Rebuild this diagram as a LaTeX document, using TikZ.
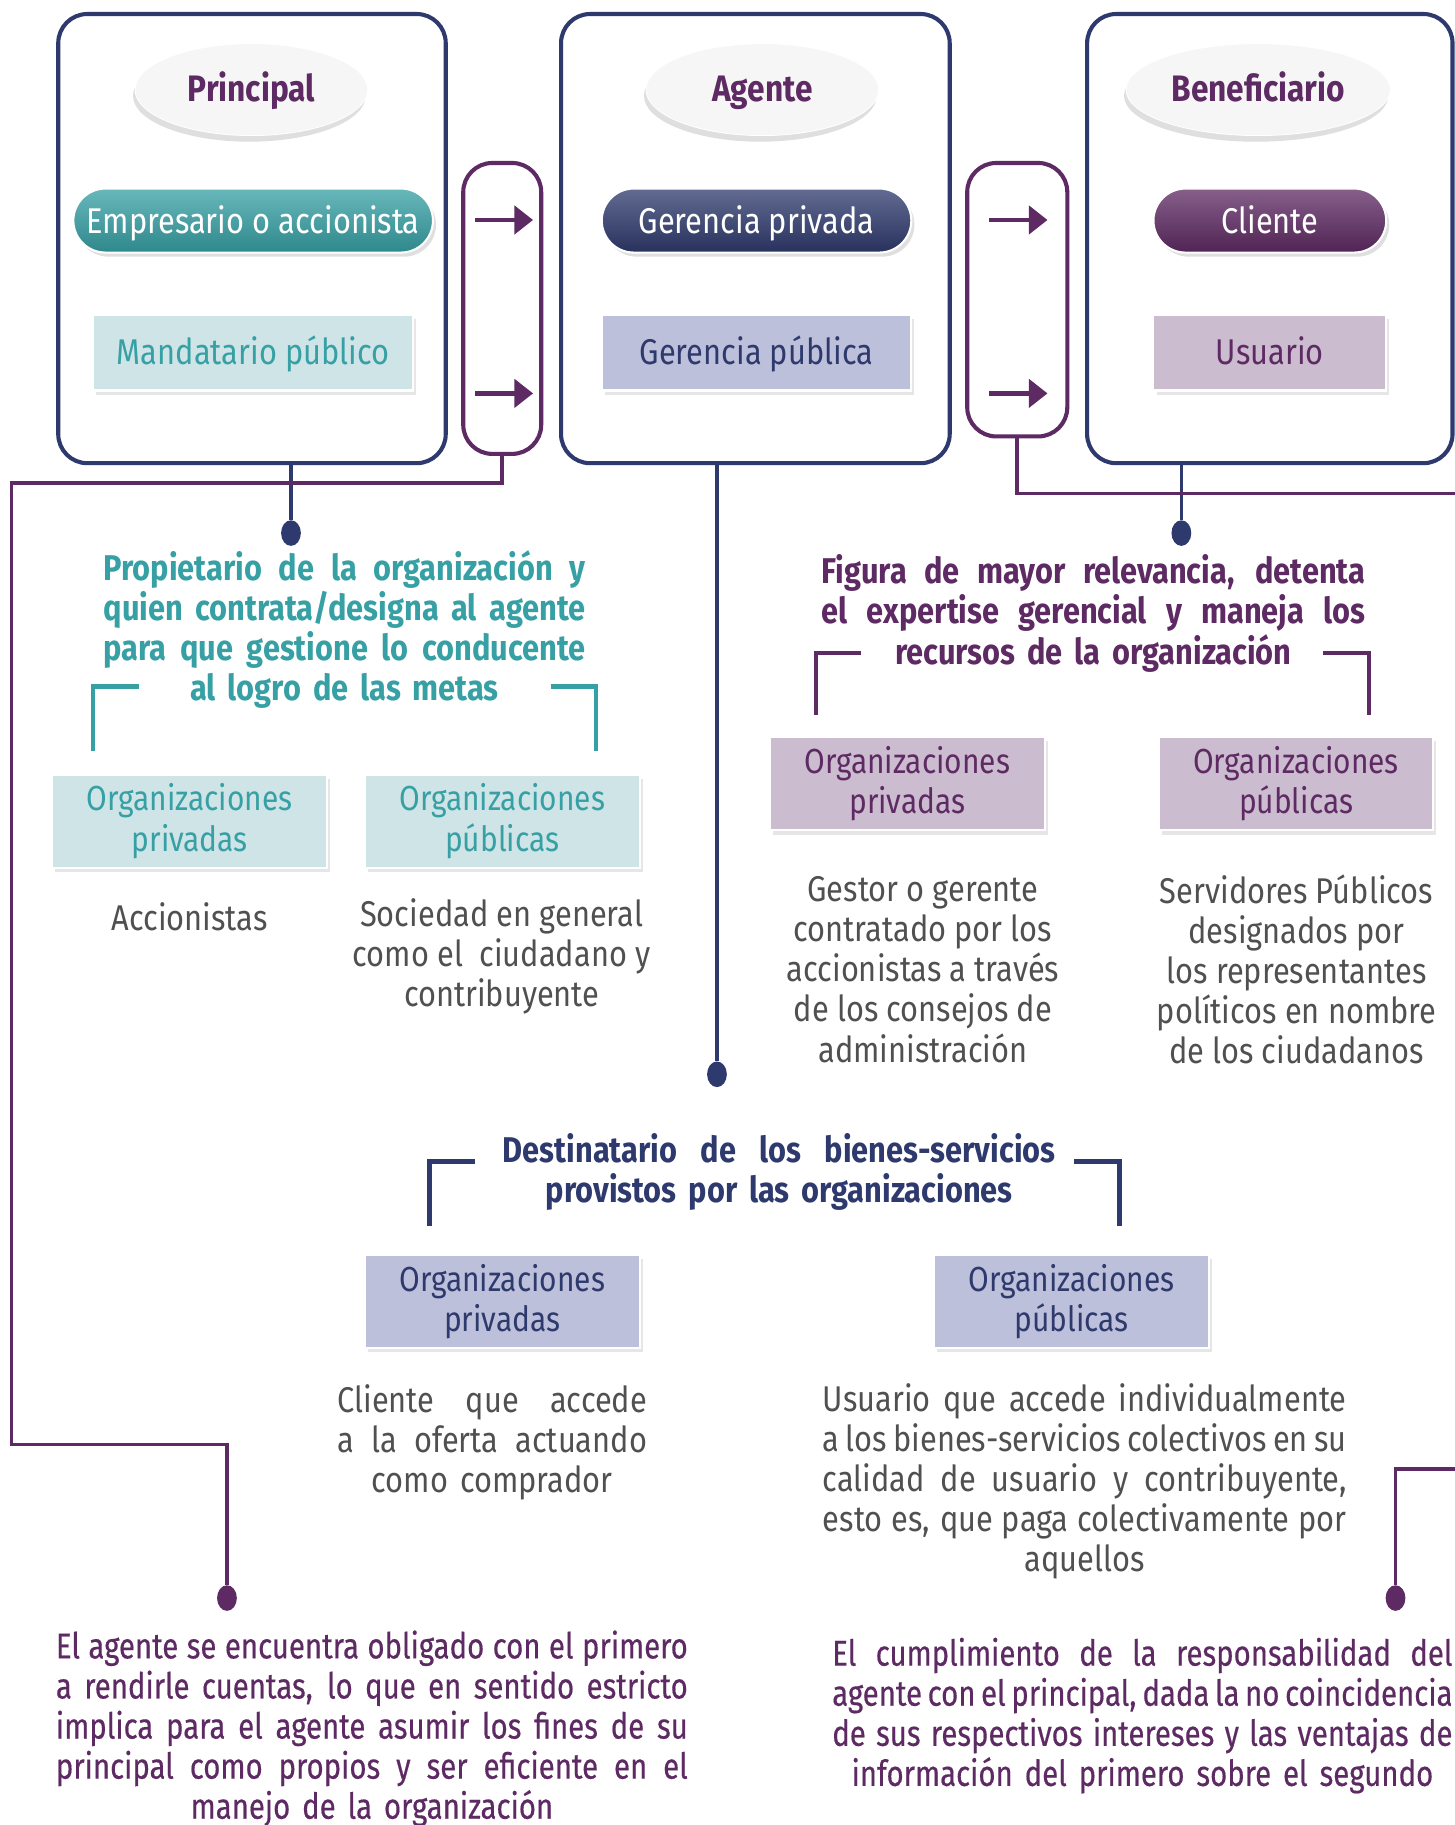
\documentclass[tikz,border=0pt]{standalone}
\usepackage{fontspec}
\setmainfont{Fira Sans}[FakeStretch=0.86]
\newfontfamily\narrowfont{Fira Sans}[FakeStretch=0.82, FakeBold=0.4]
\usepackage{tikz}
\usetikzlibrary{positioning,shapes.geometric,arrows.meta,shadows,calc}

\definecolor{cnavy}{HTML}{2E3A6D}
\definecolor{cteal}{HTML}{36A0A4}
\definecolor{cplum}{HTML}{5E2A63}
\definecolor{cgray}{HTML}{505050}
\definecolor{ctealsoft}{HTML}{CFE4E6}
\definecolor{cnavysoft}{HTML}{BDC0DA}
\definecolor{cplumsoft}{HTML}{CCBCCF}

% one justified line of a block
\newcommand\jl[1]{\leavevmode\hbox to \hsize{\spaceskip=.12em plus 1fill\xspaceskip=\spaceskip\relax #1}\\}

\begin{document}
\begin{tikzpicture}[x=0.02cm,y=-0.02cm,
  frame/.style={draw=cnavy, line width=2pt, rounded corners=0.5cm, minimum height=7.72cm},
  role/.style={ellipse, draw=white, fill=gray!7, text=cplum, font=\bfseries\fontsize{18}{20}\selectfont,
    text height=14.8pt, text depth=3.5pt,
    minimum width=4cm, minimum height=1.58cm, drop shadow={shadow xshift=-1pt, shadow yshift=-3pt, opacity=0.25}},
  pill/.style={rounded corners=0.55cm, draw=white, line width=1pt, text=white, minimum height=1.1cm,
    text height=15.9pt, text depth=3.5pt,
    font=\fontsize{17.5}{20}\selectfont, top color=#1!75!white, bottom color=#1!85!black,
    drop shadow={shadow xshift=1.5pt, shadow yshift=-2pt, opacity=0.25}},
  tag/.style={draw=white, line width=1pt, fill=#1soft, text=#1, minimum height=1.3cm,
    text height=14.8pt, text depth=3.5pt,
    font=\fontsize{17.5}{20}\selectfont, drop shadow={shadow xshift=1.5pt, shadow yshift=-2pt, opacity=0.2}},
  orgbox/.style={draw=white, line width=1pt, fill=#1soft, text=#1, align=center, minimum width=4.72cm,
    minimum height=1.6cm, font=\fontsize{17}{19.6}\selectfont,
    drop shadow={shadow xshift=1.5pt, shadow yshift=-2pt, opacity=0.2}},
  passage/.style={draw=cplum, line width=2pt, rounded corners=0.5cm},
  flow/.style={draw=cplum, line width=2.2pt, -{Triangle[length=0.32cm, width=0.48cm]}},
  link/.style={line width=1.8pt},
  dot/.style={ellipse, fill=#1, inner sep=0pt, minimum width=0.34cm, minimum height=0.44cm},
  cornermark/.style={line width=2.2pt},
  headtxt/.style={text=#1, font=\bfseries\fontsize{17.5}{19.6}\selectfont, align=center, inner sep=0pt},
  bodytxt/.style={text=cgray, font=\fontsize{17.5}{19.6}\selectfont, align=center, inner sep=0pt},
  foottxt/.style={text=cplum, font=\narrowfont\fontsize{17.5}{19.6}\selectfont, align=center, inner sep=0pt}]
  \useasboundingbox (0,0) rectangle (1250,1568);

  % the three actors
  \node[frame, minimum width=6.66cm] (prinBox) at (216.5,205) {};
  \node[frame, minimum width=6.68cm] (agenBox) at (649,205) {};
  \node[frame, minimum width=6.28cm] (beneBox) at (1091,205) {};

  \node[role] (prin) at (216,77) {Principal};
  \node[role] (agen) at (655,77) {Agente};
  \node[role] (bene) at (1081,77) {Beneficiario};

  \node[pill=cteal, minimum width=6.18cm] (empresario) at (217.5,189.5) {Empresario o accionista};
  \node[pill=cnavy, minimum width=5.32cm] (gerPriv) at (650,189.5) {Gerencia privada};
  \node[pill=cplum, minimum width=4cm] (cliente) at (1091,189.5) {Cliente};

  \node[tag=cteal, minimum width=5.5cm] (mandatario) at (217.5,303) {Mandatario público};
  \node[tag=cnavy, minimum width=5.32cm] (gerPub) at (650,303) {Gerencia pública};
  \node[tag=cplum, minimum width=4cm] (usuario) at (1091,303) {Usuario};

  % passages between actors
  \node[passage, minimum width=1.34cm, minimum height=5cm] (pass1) at (431.5,265) {};
  \node[passage, minimum width=1.72cm, minimum height=4.7cm] (pass2) at (874,257.5) {};
  \foreach \i/\xa/\xb in {1/408/458, 2/850/900}
    \foreach \j/\y in {1/189, 2/338}{
      \coordinate (s\i\j) at (\xa,\y);
      \coordinate (e\i\j) at (\xb,\y);
      \draw[flow] (s\i\j) -- (e\i\j);
    }

  % dots
  \node[dot=cnavy] (dPrin) at (250,458) {};
  \node[dot=cnavy] (dAgen) at (616,923) {};
  \node[dot=cnavy] (dBene) at (1015,458) {};
  \node[dot=cplum] (dLeft) at (195,1373) {};
  \node[dot=cplum] (dRight) at (1199,1373) {};

  % connectors
  \draw[link, cnavy] (dPrin |- prinBox.south) -- (dPrin);
  \draw[link, cnavy] (dAgen |- agenBox.south) -- (dAgen);
  \draw[link, cnavy] (dBene |- beneBox.south) -- (dBene);
  \coordinate (ltop) at (10,415);
  \coordinate (lbot) at (10,1241);
  \coordinate (rtop) at (1255,424);
  \coordinate (rbot) at (1255,1262);
  \draw[link, cplum] (pass1.south) |- (ltop) -- (lbot) -| (dLeft);
  \draw[link, cplum] (pass2.south) |- (rtop);
  \draw[link, cplum] (rbot) -| (dRight);

  % headings
  \node[headtxt=cteal, text width=8.28cm] (prinTxt) at (296,541) {\jl{Propietario de la organización y}
    \jl{quien contrata/designa al agente} \jl{para que gestione lo conducente} al logro de las metas};
  \node[headtxt=cplum, text width=9.34cm] (agenTxt) at (939.5,527) {\jl{Figura de mayor relevancia, detenta}
    \jl{el expertise gerencial y maneja los} recursos de la organización};
  \node[headtxt=cnavy, text width=9.5cm] (beneTxt) at (669.5,1007) {\jl{Destinatario de los bienes-servicios}
    provistos por las organizaciones};

  % corner marks
  \foreach \c/\xl/\xr/\y/\yb in {cteal/80/512/590/645, cplum/701/1176/561/614, cnavy/369/962/998/1053}{
    \draw[cornermark, \c] (\xl+39,\y) -- (\xl,\y) -- (\xl,\yb);
    \draw[cornermark, \c] (\xr-39,\y) -- (\xr,\y) -- (\xr,\yb);
  }

  % organisation boxes
  \foreach \nm/\c/\x/\y/\kind in {tPriv/cteal/163/705.5/privadas, tPub/cteal/431.5/705.5/públicas,
      pPriv/cplum/779.5/673.5/privadas, pPub/cplum/1113.5/673.5/públicas,
      nPriv/cnavy/431.5/1118/privadas, nPub/cnavy/920.5/1118/públicas}
    \node[orgbox=\c] (\nm) at (\x,\y) {Organizaciones\\\kind};

  % descriptions
  \node[bodytxt] (accion) at (163,788) {Accionistas};
  \node[bodytxt] (sociedad) at (431,822) {Sociedad en general\\como el\ \ ciudadano y\\contribuyente};
  \node[bodytxt] (gestor) at (793,833) {Gestor o gerente\\contratado por los\\accionistas a través\\de los consejos de\\administración};
  \node[bodytxt] (servid) at (1114,833) {Servidores Públicos\\designados por\\los representantes\\políticos en nombre\\de los ciudadanos};
  \node[bodytxt, text width=5.32cm] (comprador) at (423,1239) {\jl{Cliente que accede} \jl{a la oferta actuando} como comprador};
  \node[bodytxt, text width=9cm] (usuarioTxt) at (932,1273) {\jl{Usuario que accede individualmente}
    \jl{a los bienes-servicios colectivos en su} \jl{calidad de usuario y contribuyente,}
    \jl{esto es, que paga colectivamente por} aquellos};

  % closing notes
  \node[foottxt, text width=10.86cm] (rendir) at (319.5,1485) {\jl{El agente se encuentra obligado con el primero}
    \jl{a rendirle cuentas, lo que en sentido estricto} \jl{implica para el agente asumir los fines de su}
    \jl{principal como propios y ser eficiente en el} manejo de la organización};
  \node[foottxt, text width=10.66cm] (cumplir) at (981.5,1474) {\jl{El cumplimiento de la responsabilidad del}
    \jl{agente con el principal, dada la no coincidencia} \jl{de sus respectivos intereses y las ventajas de}
    información del primero sobre el segundo};
\end{tikzpicture}
\end{document}
